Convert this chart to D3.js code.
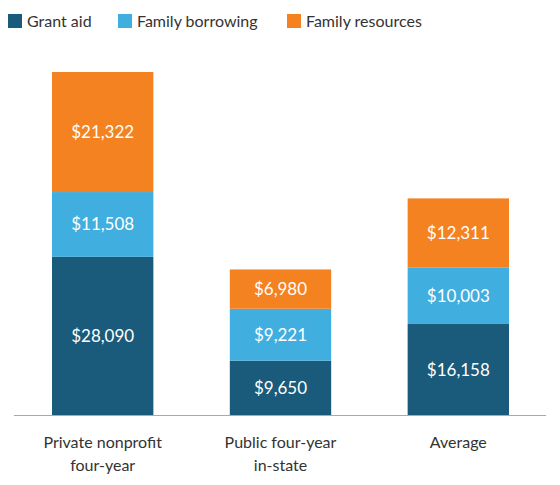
<!DOCTYPE html><html><head><script src="https://cdn.jsdelivr.net/npm/d3@7"></script>
<style>body{margin:0;background:#fff}text{font-family:Lato,"Open Sans",sans-serif}</style></head><body>
<svg id="c" width="560" height="485"></svg>
<script>
const categories=[["Private nonprofit","four-year"],["Public four-year","in-state"],["Average"]];
const series=["Grant aid","Family borrowing","Family resources"];
const grant=[28090,9650,16158];
const borrowing=[11508,9221,10003];
const resources=[21322,6980,12311];
const colors=["#1a5a7a","#41aee0","#f58220"];
const svg=d3.select("#c");
const data=categories.map((c,i)=>({i,v:[grant[i],borrowing[i],resources[i]]}));
const x=d3.scaleBand().domain(d3.range(3)).range([52,509]).paddingInner(0.43).paddingOuter(0);
const y=d3.scaleLinear().domain([0,60920]).range([415,72]);
data.forEach(d=>{let acc=0;d.v.forEach((val,k)=>{
 const y0=y(acc),y1=y(acc+val);acc+=val;
 svg.append("rect").attr("x",x(d.i)).attr("width",x.bandwidth()).attr("y",y1).attr("height",y0-y1).attr("fill",colors[k]);
 svg.append("text").attr("x",x(d.i)+x.bandwidth()/2).attr("y",(y0+y1)/2+6).attr("text-anchor","middle").attr("fill","#fff").attr("font-size",17).text("$"+d3.format(",")(val));
});});
svg.append("line").attr("x1",14).attr("x2",546).attr("y1",415.5).attr("y2",415.5).attr("stroke","#aaa");
categories.forEach((c,i)=>c.forEach((t,j)=>svg.append("text").attr("x",x(i)+x.bandwidth()/2).attr("y",448+j*23).attr("text-anchor","middle").attr("fill","#333").attr("font-size",16).text(t)));
const lx=[8,118,287];
series.forEach((s,k)=>{svg.append("rect").attr("x",lx[k]).attr("y",14).attr("width",14).attr("height",14).attr("fill",colors[k]);
svg.append("text").attr("x",lx[k]+19).attr("y",27).attr("font-size",16).attr("fill","#333").text(s);});
</script></body></html>
